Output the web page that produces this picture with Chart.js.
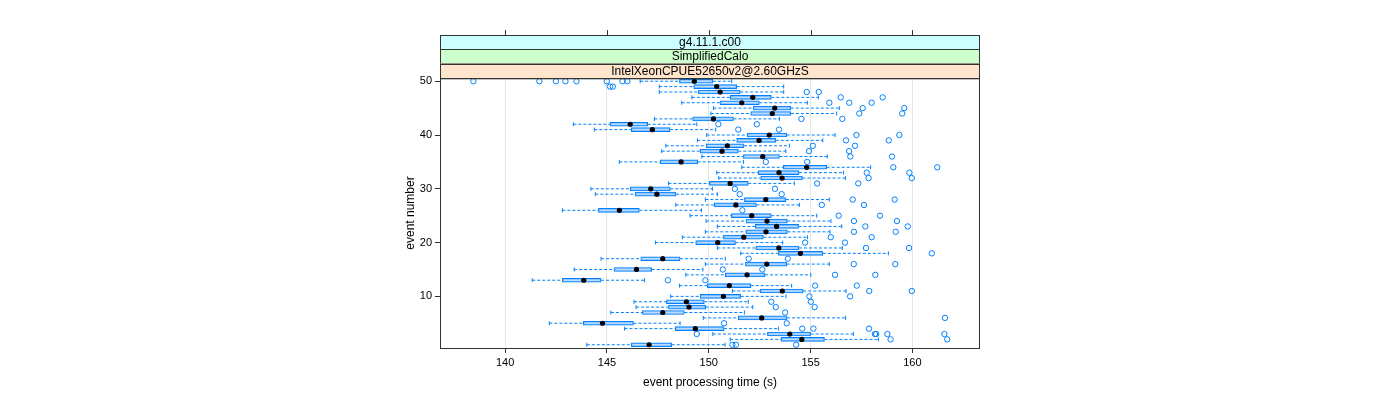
<!DOCTYPE html>
<html>
<head>
<meta charset="utf-8">
<script src="https://cdn.jsdelivr.net/npm/chart.js@4.4.1/dist/chart.umd.min.js"></script>
<style>
  html, body { margin: 0; padding: 0; background: #fff; }
  canvas { display: block; }
</style>
</head>
<body>
<canvas id="chart" width="1400" height="400"></canvas>
<script>
// event numbers 1..50, one box per event
const eventNumbers = [1, 2, 3, 4, 5, 6, 7, 8, 9, 10, 11, 12, 13, 14, 15, 16, 17, 18, 19, 20,
  21, 22, 23, 24, 25, 26, 27, 28, 29, 30, 31, 32, 33, 34, 35, 36, 37, 38, 39, 40,
  41, 42, 43, 44, 45, 46, 47, 48, 49, 50];

const whiskerLow = [144.01, 151.05, 150.20, 145.86, 142.17, 149.73, 145.19, 146.43, 146.33, 148.13,
  151.16, 148.56, 141.33, 148.87, 143.39, 149.83, 144.71, 151.57, 150.42, 147.38,
  148.70, 149.83, 150.42, 149.87, 149.08, 142.81, 148.38, 149.83, 144.43, 144.21,
  148.02, 150.49, 150.39, 151.62, 145.61, 149.66, 147.69, 147.89, 149.44, 149.90,
  144.38, 143.35, 147.33, 150.10, 150.23, 148.67, 149.17, 147.57, 147.57, 146.63];

const boxLow = [146.19, 153.55, 152.88, 148.35, 143.84, 151.45, 146.74, 148.02, 147.92, 149.57,
  152.52, 149.93, 142.81, 150.81, 145.35, 151.80, 146.66, 153.42, 152.31, 149.36,
  150.72, 151.82, 152.28, 151.83, 151.11, 144.58, 150.27, 151.75, 146.38, 146.14,
  150.03, 152.55, 152.43, 153.66, 147.61, 151.70, 149.57, 149.87, 151.37, 151.89,
  146.19, 145.15, 149.21, 152.06, 152.19, 150.55, 151.05, 149.49, 149.26, 148.56];

const median = [147.07, 154.57, 153.98, 149.34, 144.78, 152.60, 147.74, 149.03, 148.90, 150.72,
  153.61, 151.01, 143.86, 151.88, 146.45, 152.85, 147.74, 154.50, 153.44, 150.44,
  151.72, 152.81, 153.33, 152.86, 152.11, 145.61, 151.33, 152.80, 147.45, 147.15,
  151.05, 153.60, 153.45, 154.81, 148.64, 152.65, 150.65, 150.91, 152.47, 152.97,
  147.23, 146.14, 150.23, 153.12, 153.24, 151.62, 152.16, 150.56, 150.39, 149.29];

const boxHigh = [148.18, 155.68, 155.00, 150.75, 146.30, 153.84, 148.80, 149.85, 149.78, 151.57,
  154.64, 152.06, 144.71, 152.76, 147.20, 153.83, 148.59, 155.60, 154.43, 151.31,
  152.68, 153.86, 154.41, 153.86, 153.07, 146.59, 152.34, 153.79, 148.39, 148.11,
  151.94, 154.60, 154.43, 155.79, 149.46, 153.47, 151.45, 151.73, 153.29, 153.83,
  148.10, 147.00, 151.21, 154.03, 154.03, 152.48, 153.07, 151.54, 151.37, 150.20];

const whiskerHigh = [150.80, 158.33, 157.10, 153.42, 148.59, 156.72, 151.75, 152.16, 151.94, 153.79,
  156.74, 154.07, 146.84, 155.01, 149.71, 155.92, 150.81, 158.82, 156.56, 153.63,
  154.85, 155.95, 156.53, 156.00, 155.30, 149.64, 154.45, 155.92, 150.42, 150.18,
  154.20, 156.71, 156.61, 157.95, 151.70, 155.82, 153.78, 153.96, 155.60, 156.20,
  150.34, 149.41, 153.47, 156.28, 156.41, 154.84, 155.38, 153.68, 153.68, 151.13];

const outliers = [
  [151.16, 151.33, 154.29], [158.93, 161.71], [149.41, 158.16, 158.22, 158.77, 161.57],
  [154.59, 155.14, 157.87], [150.75, 153.83], [161.60], [153.75], [153.29, 155.20],
  [153.07, 155.01], [154.94, 156.94], [157.88, 159.97], [155.22, 157.27], [147.99, 149.83],
  [156.20, 158.18], [150.69, 152.63], [157.12, 159.16], [151.96, 153.88], [160.95],
  [157.72, 159.83], [154.73, 156.69], [155.99, 158.00], [157.13, 159.18], [157.69, 159.77],
  [157.13, 159.24], [156.38, 158.41], [151.65], [155.55, 157.62], [157.07, 159.13],
  [151.52, 153.58], [151.28, 153.25], [155.32, 157.34], [157.85, 159.97], [157.76, 159.85],
  [159.06, 161.22], [152.80, 154.83], [156.95, 159.00], [154.92, 156.89], [155.11, 157.18],
  [156.74, 158.84], [157.25, 159.36], [151.45, 153.45], [150.47, 152.36], [154.55, 156.56],
  [157.39, 159.50], [157.56, 159.60], [155.92, 156.90, 158.00], [156.48, 158.54],
  [154.81, 155.40], [145.15, 145.29],
  [138.44, 141.68, 142.49, 142.96, 143.50, 144.99, 145.76, 146.00]
];

const xTicks = [140, 145, 150, 155, 160];
const yTicks = [10, 20, 30, 40, 50];
const stripLabels = ['g4.11.1.c00', 'SimplifiedCalo', 'IntelXeonCPUE52650v2@2.60GHzS'];

const BLUE = '#0080ff';
const FONT = 'Liberation Sans, Arial, sans-serif';

// build the datasets from the arrays above
const boxData = eventNumbers.map((e, i) => ({ x: [boxLow[i], boxHigh[i]], y: e }));
const medianData = eventNumbers.map((e, i) => ({ x: median[i], y: e }));
const whiskerData = [];
const capData = [];
const outlierData = [];
eventNumbers.forEach((e, i) => {
  whiskerData.push(
    { x: whiskerLow[i], y: e }, { x: boxLow[i], y: e }, { x: null, y: null },
    { x: boxHigh[i], y: e }, { x: whiskerHigh[i], y: e }, { x: null, y: null }
  );
  capData.push({ x: whiskerLow[i], y: e }, { x: whiskerHigh[i], y: e });
  outliers[i].forEach(v => outlierData.push({ x: v, y: e }));
});

// strips, top axis ticks and panel frame
const panelPlugin = {
  id: 'panel',
  afterDraw(chart) {
    const { ctx, chartArea: a, scales: { x } } = chart;
    const colors = ['#ccffff', '#ccffcc', '#ffe5cc'];
    const h = 14.3;
    const top = a.top - h * stripLabels.length;
    ctx.save();
    ctx.lineWidth = 1;
    ctx.strokeStyle = '#333';
    stripLabels.forEach((lab, k) => {
      const y0 = top + k * h;
      ctx.fillStyle = colors[k];
      ctx.fillRect(a.left, y0, a.right - a.left, h);
      ctx.strokeRect(a.left + 0.5, Math.round(y0) + 0.5, a.right - a.left - 1, h);
      ctx.fillStyle = '#000';
      ctx.font = '12px ' + FONT;
      ctx.textAlign = 'center';
      ctx.textBaseline = 'middle';
      ctx.fillText(lab, (a.left + a.right) / 2, y0 + h / 2 + 0.5);
    });
    // top ticks
    ctx.beginPath();
    xTicks.forEach(v => {
      const px = Math.round(x.getPixelForValue(v)) + 0.5;
      ctx.moveTo(px, top - 5);
      ctx.lineTo(px, top);
    });
    ctx.stroke();
    // frame
    ctx.strokeRect(a.left + 0.5, a.top + 0.5, a.right - a.left - 1, a.bottom - a.top);
    ctx.restore();
  }
};

new Chart(document.getElementById('chart'), {
  type: 'scatter',
  data: {
    datasets: [
      {
        type: 'scatter', data: medianData, order: 0,
        pointRadius: 2.6, pointBackgroundColor: '#000', pointBorderColor: '#000', pointBorderWidth: 0
      },
      {
        type: 'scatter', data: outlierData, order: 1,
        pointRadius: 2.7, pointBackgroundColor: 'rgba(0,0,0,0)', pointBorderColor: BLUE, pointBorderWidth: 1
      },
      {
        type: 'bar', indexAxis: 'y', data: boxData, order: 2,
        barThickness: 4, borderWidth: 1, borderSkipped: false,
        borderColor: BLUE, backgroundColor: 'rgba(160,205,255,0.7)'
      },
      {
        type: 'scatter', data: capData, order: 3,
        pointStyle: 'line', rotation: 90, pointRadius: 2, pointBorderColor: BLUE, pointBorderWidth: 1
      },
      {
        type: 'line', data: whiskerData, order: 4,
        borderColor: BLUE, borderWidth: 1, borderDash: [3, 2], pointRadius: 0,
        spanGaps: false, fill: false, tension: 0
      }
    ]
  },
  options: {
    responsive: false,
    animation: false,
    devicePixelRatio: 1,
    layout: { padding: { left: 400, right: 420, top: 78, bottom: 0 } },
    plugins: { legend: { display: false }, tooltip: { enabled: false } },
    scales: {
      x: {
        type: 'linear', position: 'bottom', min: 136.8, max: 163.32, offset: false,
        afterBuildTicks: s => { s.ticks = xTicks.map(v => ({ value: v })); },
        afterFit: s => { s.height = 52; },
        grid: { color: '#e6e6e6', tickColor: '#333', tickLength: 5, offset: false },
        border: { display: false },
        ticks: { color: '#000', padding: 3, maxRotation: 0, font: { family: FONT, size: 11 } },
        title: {
          display: true, text: 'event processing time (s)', color: '#000',
          font: { family: FONT, size: 12 }, padding: { top: 0, bottom: 10 }
        }
      },
      y: {
        type: 'linear', min: 0.4, max: 50.6, offset: false,
        afterBuildTicks: s => { s.ticks = yTicks.map(v => ({ value: v })); },
        afterFit: s => { s.width = 40; },
        grid: { drawOnChartArea: false, tickColor: '#333', tickLength: 5, offset: false },
        border: { display: false },
        ticks: { color: '#000', padding: 3, font: { family: FONT, size: 11 } },
        title: {
          display: true, text: 'event number', color: '#000',
          font: { family: FONT, size: 12 }, padding: { top: 3, bottom: 0 }
        }
      }
    }
  },
  plugins: [panelPlugin]
});
</script>
</body>
</html>
